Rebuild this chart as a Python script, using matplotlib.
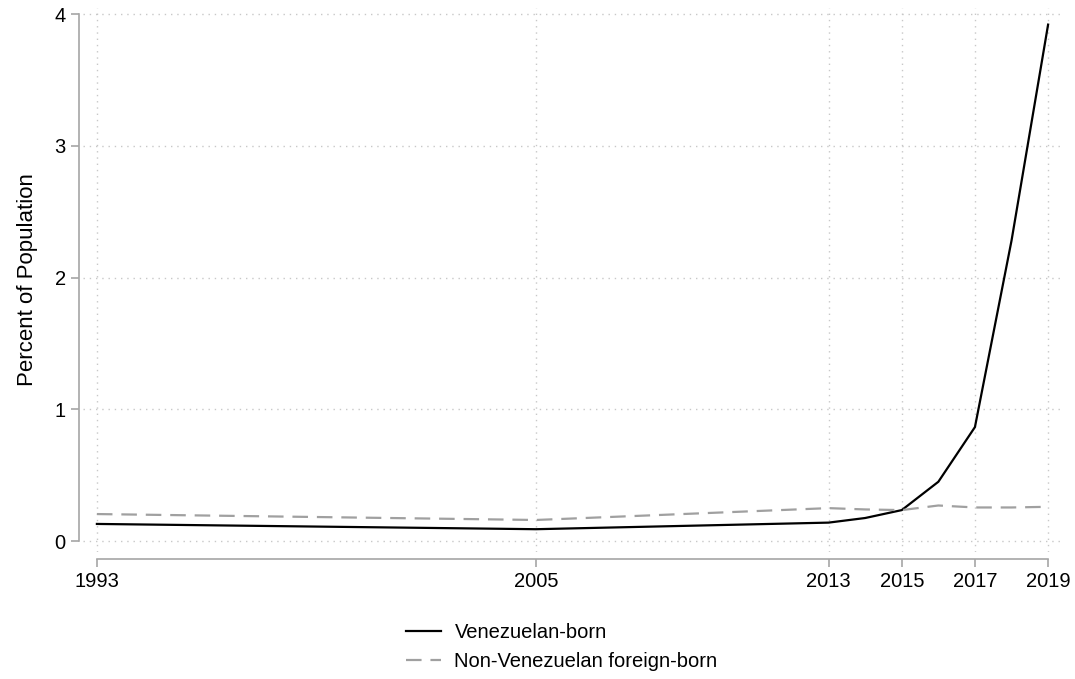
import matplotlib
matplotlib.use("Agg")
import matplotlib.pyplot as plt

plt.rcParams["font.family"] = ["Liberation Sans", "DejaVu Sans"]

# share of population, percent
years = [1993, 2005, 2013, 2014, 2015, 2016, 2017, 2018, 2019]
venezuelan_born = [0.13, 0.09, 0.14, 0.175, 0.235, 0.45, 0.865, 2.28, 3.92]
other_foreign_born = [0.205, 0.16, 0.25, 0.24, 0.235, 0.27, 0.255, 0.255, 0.26]

xticks = [1993, 2005, 2013, 2015, 2017, 2019]
yticks = [0, 1, 2, 3, 4]

AXIS = "#a6a6a6"
GRID = "#c8c8c8"

fig = plt.figure(figsize=(10.75, 6.79), dpi=100)
ax = fig.add_axes([83 / 1075, 1 - 552 / 679, (1062 - 83) / 1075, (552 - 8) / 679])

ax.plot(years, venezuelan_born, color="black", lw=1.6, label="Venezuelan-born")
ax.plot(years, other_foreign_born, color="#a0a0a0", lw=1.6, dashes=(7, 4),
        label="Non-Venezuelan foreign-born")

ax.set_xlim(1992.62, 2019.38)
ax.set_ylim(-0.083, 4.046)
ax.set_xticks(xticks)
ax.set_yticks(yticks)
ax.grid(True, color=GRID, ls=(0, (1, 3.5)), lw=1.0)

for s in ("top", "right"):
    ax.spines[s].set_visible(False)
ax.spines["left"].set_position(("outward", 3))
ax.spines["bottom"].set_position(("outward", 5))
ax.spines["left"].set_bounds(0, 4)
ax.spines["bottom"].set_bounds(1993, 2019)
for s in ("left", "bottom"):
    ax.spines[s].set_color(AXIS)
    ax.spines[s].set_linewidth(1.2)
ax.tick_params(colors=AXIS, labelcolor="black", labelsize=14.5, length=6, width=1.2)

ax.set_ylabel("Percent of Population", fontsize=16, labelpad=12)

fig.legend(loc="upper left", bbox_to_anchor=(392 / 1075, 1 - 609 / 679),
           frameon=False, fontsize=14.5, handlelength=1.75, handletextpad=0.65,
           labelspacing=0.5, borderpad=0.2)

fig.savefig("out.png", dpi=100)
